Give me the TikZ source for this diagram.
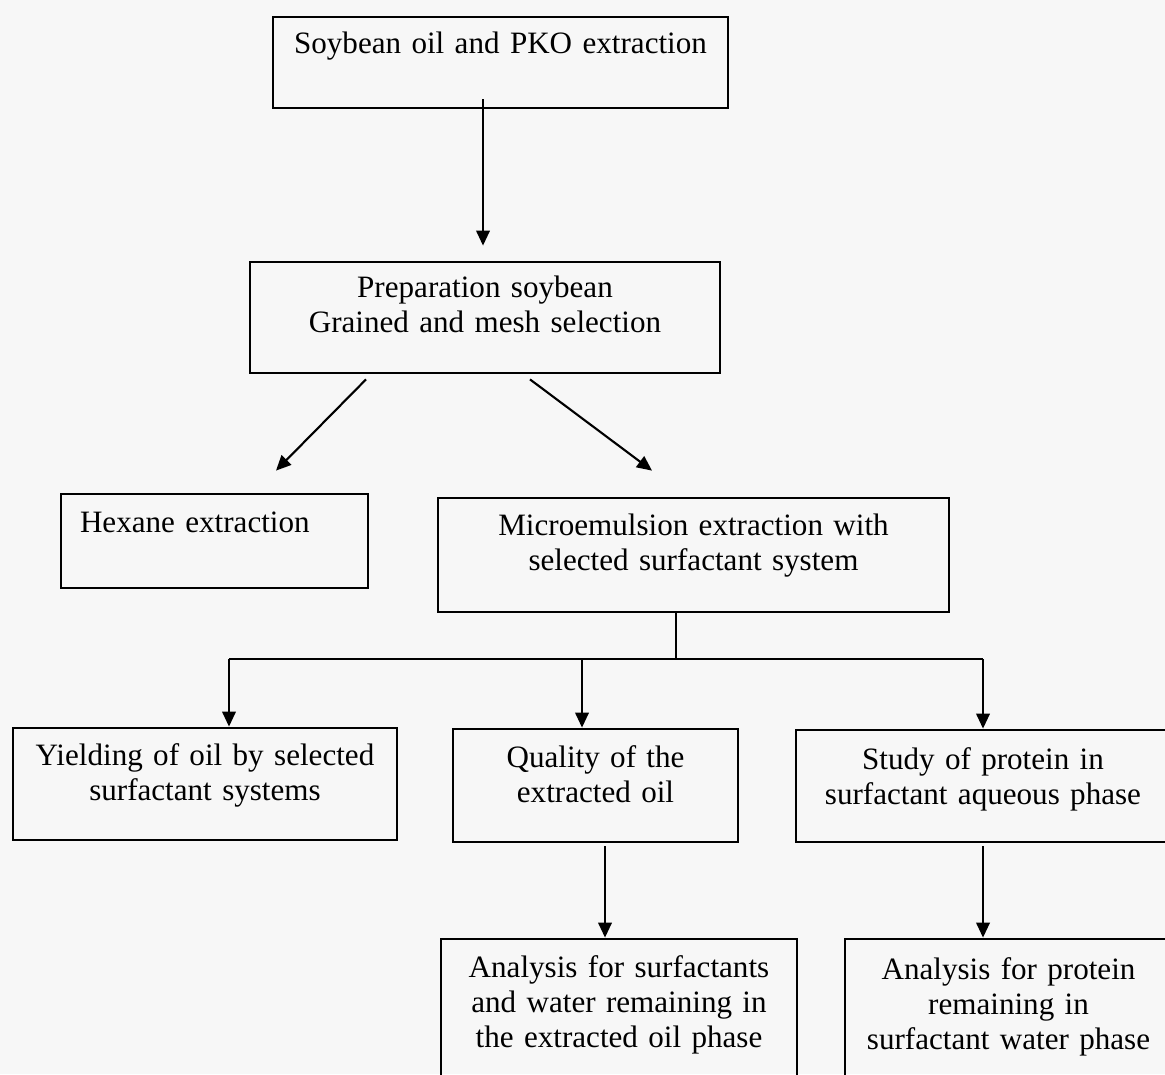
\documentclass[tikz,border=0pt]{standalone}
\usepackage{fontspec}
\setmainfont{Liberation Serif}
\usetikzlibrary{arrows.meta}
\begin{document}
\begin{tikzpicture}[
  x=0.02cm, y=-0.02cm,
  box/.style={rectangle, draw, line width=1.6pt, align=center, inner sep=0.1cm, text height=0.5cm, font=\fontsize{17.7}{20}\selectfont},
  arrow/.style={-{Triangle[length=0.3cm,width=0.27cm]}, line width=1.2pt},
  link/.style={line width=1.2pt}
]
\fill[black!3] (0,0) rectangle (1165,1074);
\useasboundingbox (0,0) rectangle (1165,1074);

\node[box, text width=8.9cm, minimum height=1.82cm, text depth=0.84cm] (oil) at (500.5,62.5) {Soybean oil and PKO extraction};
\node[box, text width=9.2cm, minimum height=2.22cm, text depth=1.32cm] (prep) at (485,317.5) {Preparation soybean\\Grained and mesh selection};
\node[box, align=left, inner xsep=0.38cm, text width=5.38cm, minimum height=1.88cm, text depth=0.86cm] (hexane) at (214.5,541) {Hexane extraction};
\node[box, text width=10.02cm, minimum height=2.28cm, text depth=1.3cm] (micro) at (693.5,555) {Microemulsion extraction with\\selected surfactant system};
\node[box, text width=7.48cm, minimum height=2.24cm, text depth=1.26cm] (yield) at (205,784) {Yielding of oil by selected\\surfactant systems};
\node[box, text width=5.5cm, minimum height=2.26cm, text depth=1.24cm] (quality) at (595.5,785.5) {Quality of the\\extracted oil};
\node[box, text width=7.28cm, minimum height=2.24cm, text depth=1.18cm] (study) at (983,786) {Study of protein in\\surfactant aqueous phase};
\node[box, text width=6.92cm, minimum height=2.92cm, text depth=1.9cm] (analoil) at (619,1012) {Analysis for surfactants\\and water remaining in\\the extracted oil phase};
\node[box, text width=6.34cm, minimum height=2.92cm, text depth=1.82cm] (analprot) at (1008.5,1012) {Analysis for protein\\remaining in\\surfactant water phase};

\draw[arrow, shorten >=0.3cm] ([xshift=-0.35cm,yshift=0.2cm]oil.south) -- ([xshift=-0.35cm]oil.south |- prep.north);
\draw[arrow] ([xshift=-2.38cm,yshift=-0.1cm]prep.south) -- ([xshift=1.23cm,yshift=0.44cm]hexane.north);
\draw[arrow] ([xshift=0.9cm,yshift=-0.1cm]prep.south) -- ([xshift=-0.83cm,yshift=0.52cm]micro.north);
\draw[link] ([xshift=-0.35cm]micro.south) -- ++(0,46) coordinate (hub);
\draw[link] ([xshift=0.48cm]yield.north |- hub) -- (study.north |- hub);
\foreach \n/\s in {yield/0.48cm, quality/-0.27cm, study/0cm}
  \draw[arrow] ([xshift=\s]\n.north |- hub) -- ([xshift=\s]\n.north);
\draw[arrow] ([xshift=0.19cm,yshift=-0.06cm]quality.south) -- ([xshift=0.19cm]quality.south |- analoil.north);
\draw[arrow] ([yshift=-0.06cm]study.south) -- (study.south |- analprot.north);
\end{tikzpicture}
\end{document}
